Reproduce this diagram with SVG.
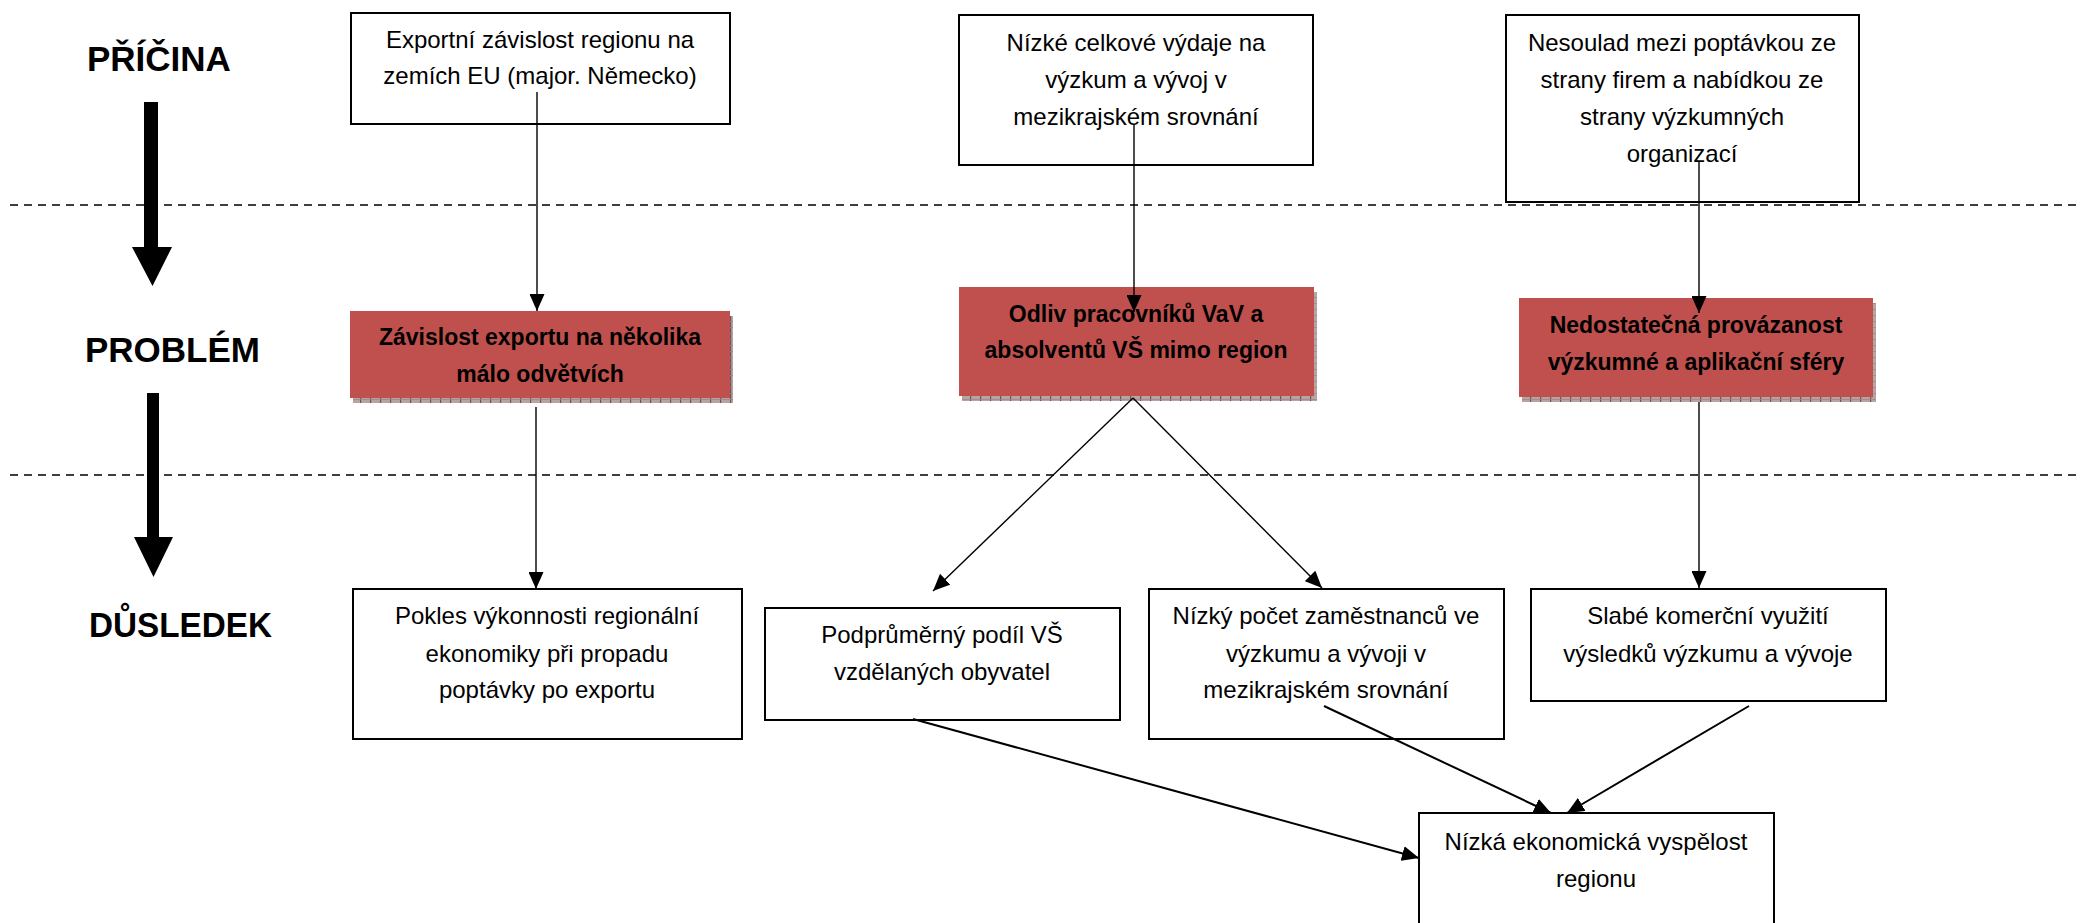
<svg xmlns="http://www.w3.org/2000/svg" width="2080" height="923" viewBox="0 0 2080 923">
<style>
.bg{fill:#ffffff}
.box{fill:#ffffff;stroke:#000;stroke-width:2}
.red{fill:#C0504D;stroke:none}
.shadow{fill:url(#hatch)}
.t{font-family:"Liberation Sans",Arial,sans-serif;font-size:24px;fill:#000;text-anchor:middle}
.tb{font-family:"Liberation Sans",Arial,sans-serif;font-size:23px;font-weight:bold;fill:#000;text-anchor:middle}
.lbl{font-family:"Liberation Sans",Arial,sans-serif;font-size:35px;font-weight:bold;fill:#000}
.dash{stroke:#000;stroke-width:1.6;stroke-dasharray:8 6;fill:none}
.c1{stroke:#000;stroke-width:1.4;fill:none;marker-end:url(#ah)}
.c2{stroke:#000;stroke-width:2;fill:none;marker-end:url(#ah)}
.big{fill:#000}
</style>
<defs>
<pattern id="hatch" width="10" height="6" patternUnits="userSpaceOnUse">
<rect width="10" height="6" fill="#B8A3A3"/>
<rect x="0" y="0" width="1.2" height="6" fill="#6E5555"/>
<rect x="0" y="3" width="10" height="0.8" fill="#A08888"/>
</pattern>
<marker id="ah" markerUnits="userSpaceOnUse" markerWidth="17" markerHeight="15" refX="17" refY="7.5" orient="auto">
<path d="M0,0 L17,7.5 L0,15 z" fill="#000"/>
</marker>
</defs>
<rect class="bg" x="0" y="0" width="2080" height="923"/>

<g id="separators">
<line class="dash" x1="10" y1="205" x2="2080" y2="205"/>
<line class="dash" x1="10" y1="475" x2="2080" y2="475"/>
</g>

<g id="labels">
<text class="lbl" x="87" y="71">PŘÍČINA</text>
<text class="lbl" x="85" y="362">PROBLÉM</text>
<text class="lbl" x="89" y="637" textLength="183" lengthAdjust="spacingAndGlyphs">DŮSLEDEK</text>
<polygon class="big" points="144,102 158,102 158,247 172,247 152.5,286 132,247 144,247"/>
<polygon class="big" points="147,393 159,393 159,537 173,537 153.5,577 134,537 147,537"/>
</g>

<g id="cause1">
<rect class="box" x="351" y="13" width="379" height="111"/>
<text class="t" x="540" y="48">Exportní závislost regionu na</text>
<text class="t" x="540" y="84">zemích EU (major. Německo)</text>
</g>
<g id="cause2">
<rect class="box" x="959" y="15" width="354" height="150"/>
<text class="t" x="1136" y="51">Nízké celkové výdaje na</text>
<text class="t" x="1136" y="88">výzkum a vývoj v</text>
<text class="t" x="1136" y="125">mezikrajském srovnání</text>
</g>
<g id="cause3">
<rect class="box" x="1506" y="15" width="353" height="187"/>
<text class="t" x="1682" y="51">Nesoulad mezi poptávkou ze</text>
<text class="t" x="1682" y="88">strany firem a nabídkou ze</text>
<text class="t" x="1682" y="125">strany výzkumných</text>
<text class="t" x="1682" y="162">organizací</text>
</g>

<g id="problem1">
<rect class="shadow" x="353" y="316" width="380" height="87"/>
<rect class="red" x="350" y="311" width="380" height="87"/>
<text class="tb" x="540" y="345">Závislost exportu na několika</text>
<text class="tb" x="540" y="382">málo odvětvích</text>
</g>
<g id="problem2">
<rect class="shadow" x="962" y="292" width="355" height="109"/>
<rect class="red" x="959" y="287" width="355" height="109"/>
<text class="tb" x="1136" y="322">Odliv pracovníků VaV a</text>
<text class="tb" x="1136" y="358">absolventů VŠ mimo region</text>
</g>
<g id="problem3">
<rect class="shadow" x="1522" y="303" width="354" height="99"/>
<rect class="red" x="1519" y="298" width="354" height="99"/>
<text class="tb" x="1696" y="333">Nedostatečná provázanost</text>
<text class="tb" x="1696" y="370">výzkumné a aplikační sféry</text>
</g>

<g id="effect1">
<rect class="box" x="353" y="589" width="389" height="150"/>
<text class="t" x="547" y="624">Pokles výkonnosti regionální</text>
<text class="t" x="547" y="662">ekonomiky při propadu</text>
<text class="t" x="547" y="698">poptávky po exportu</text>
</g>
<g id="effect2">
<rect class="box" x="765" y="608" width="355" height="112"/>
<text class="t" x="942" y="643">Podprůměrný podíl VŠ</text>
<text class="t" x="942" y="680">vzdělaných obyvatel</text>
</g>
<g id="effect3">
<rect class="box" x="1149" y="589" width="355" height="150"/>
<text class="t" x="1326" y="624">Nízký počet zaměstnanců ve</text>
<text class="t" x="1326" y="662">výzkumu a vývoji v</text>
<text class="t" x="1326" y="698">mezikrajském srovnání</text>
</g>
<g id="effect4">
<rect class="box" x="1531" y="589" width="355" height="112"/>
<text class="t" x="1708" y="624">Slabé komerční využití</text>
<text class="t" x="1708" y="662">výsledků výzkumu a vývoje</text>
</g>
<g id="outcome">
<rect class="box" x="1419" y="813" width="355" height="130"/>
<text class="t" x="1596" y="850">Nízká ekonomická vyspělost</text>
<text class="t" x="1596" y="887">regionu</text>
</g>

<g id="connectors">
<line class="c1" x1="537" y1="92" x2="537" y2="311"/>
<line class="c1" x1="1134" y1="125" x2="1134" y2="312"/>
<line class="c1" x1="1699" y1="162" x2="1699" y2="313"/>
<line class="c1" x1="536" y1="407" x2="536" y2="589"/>
<line class="c1" x1="1133" y1="398" x2="933" y2="591"/>
<line class="c1" x1="1133" y1="398" x2="1322" y2="588"/>
<line class="c1" x1="1699" y1="402" x2="1699" y2="588"/>
<line class="c2" x1="913" y1="719" x2="1419" y2="858"/>
<line class="c2" x1="1324" y1="706" x2="1551" y2="813"/>
<line class="c2" x1="1749" y1="706" x2="1567" y2="813"/>
</g>
</svg>
